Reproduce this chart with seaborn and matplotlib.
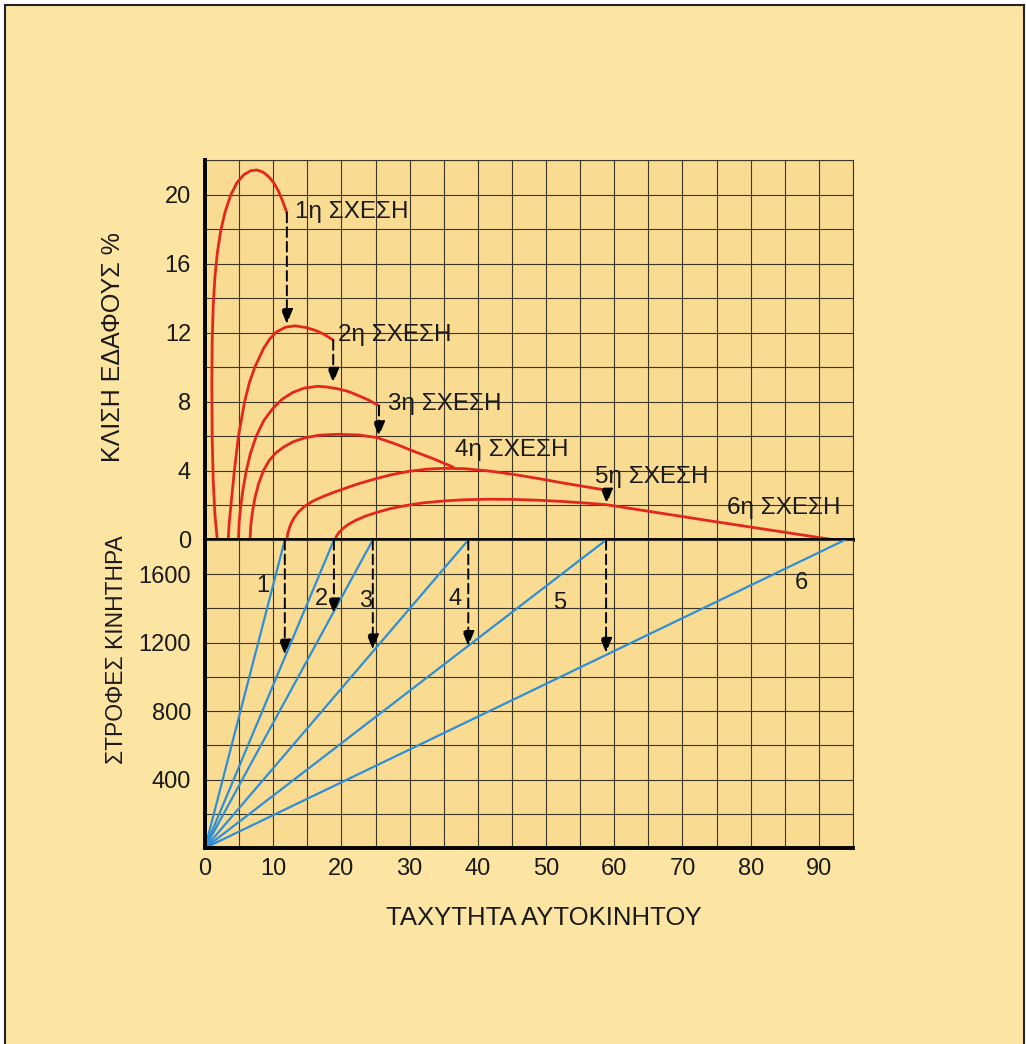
import matplotlib
matplotlib.use("Agg")
import matplotlib.pyplot as plt
import pandas as pd
import seaborn as sns
from matplotlib.patches import Rectangle

# slope curves (speed, % slope) for each gear
c1_speed = [1.8, 1.45, 1.2, 1.05, 1.0, 1.05, 1.2, 1.45, 1.8, 2.3, 2.95, 3.75, 4.7, 5.7, 6.7, 7.6, 8.5, 9.3, 10.05, 10.7, 11.3, 12.0]
c1_slope = [0, 1.5, 3.5, 6, 9, 11.5, 13.5, 15.2, 16.6, 17.9, 19.0, 19.95, 20.7, 21.15, 21.38, 21.42, 21.3, 21.05, 20.7, 20.25, 19.7, 18.95]
c2_speed = [3.4, 3.55, 3.8, 4.3, 4.9, 5.8, 6.5, 7.3, 8.6, 9.5, 10.5, 11.8, 13.2, 14.8, 16.1, 17.5, 18.8]
c2_slope = [0, 1, 2, 4, 6, 8, 9.1, 10, 11.1, 11.65, 12.05, 12.32, 12.4, 12.3, 12.15, 11.9, 11.57]
c3_speed = [4.9, 5.0, 5.25, 5.6, 6.05, 6.65, 7.5, 8.6, 9.9, 11.3, 12.9, 14.6, 16.6, 18.0, 19.5, 21.0, 22.5, 24.0, 25.5]
c3_slope = [0, 1, 2, 3, 4, 5, 6, 6.9, 7.6, 8.15, 8.55, 8.8, 8.9, 8.85, 8.75, 8.6, 8.36, 8.1, 7.77]
c4_speed = [6.6, 6.7, 6.95, 7.3, 7.85, 8.55, 9.4, 10.4, 11.6, 13.0, 14.7, 16.8, 19.5, 22.5, 25.2, 28.0, 30.5, 33.5, 36.4]
c4_slope = [0, 0.8, 1.6, 2.4, 3.25, 4.0, 4.6, 5.05, 5.4, 5.7, 5.92, 6.07, 6.12, 6.08, 5.93, 5.55, 5.15, 4.7, 4.22]
c5_speed = [12.0, 12.15, 12.5, 13.0, 13.7, 14.6, 15.8, 17.2, 18.8, 20.6, 22.6, 24.8, 27.2, 29.8, 32.5, 35.0, 38.0, 41.5, 45.2, 49.0, 52.5, 56.0, 58.9]
c5_slope = [0, 0.4, 0.85, 1.25, 1.62, 1.95, 2.25, 2.5, 2.75, 3.0, 3.27, 3.52, 3.77, 3.97, 4.1, 4.15, 4.13, 4.0, 3.8, 3.55, 3.3, 3.07, 2.88]
c6_speed = [19.1, 19.25, 19.6, 20.2, 21.0, 22.1, 23.5, 25.2, 27.2, 29.5, 32.0, 35.0, 38.0, 41.5, 45.2, 49.0, 52.5, 55.8, 58.9, 74.5, 92.4]
c6_slope = [0, 0.2, 0.42, 0.66, 0.9, 1.14, 1.38, 1.6, 1.82, 2.0, 2.15, 2.26, 2.33, 2.36, 2.35, 2.3, 2.23, 2.14, 2.04, 1.08, 0]

gear_names = ["1η ΣΧΕΣΗ", "2η ΣΧΕΣΗ", "3η ΣΧΕΣΗ", "4η ΣΧΕΣΗ", "5η ΣΧΕΣΗ", "6η ΣΧΕΣΗ"]
gear_numbers = ["1", "2", "3", "4", "5", "6"]

# engine rpm lines: speed reached at max rpm in each gear
rpm_max = 1800
speed_at_max_rpm = [11.7, 18.9, 24.6, 38.6, 58.8, 93.8]

# gear change arrows (top: slope drop, bottom: rpm drop)
shift_speed_top = [12.0, 18.8, 25.5, 58.9]
shift_slope_from = [18.95, 11.57, 7.77, 2.88]
shift_slope_to = [12.5, 9.1, 6.0, 2.1]
shift_speed_bot = [11.7, 18.9, 24.6, 38.6, 58.8]
shift_rpm_to = [1130, 1370, 1160, 1180, 1140]

RED = "#e5261d"
BLUE = "#2f8fd6"
GRID = "#3d3725"
BG_FIG = "#fce4a2"
BG_AX = "#f9dc92"
INK = "#1a1a1a"

sns.set_style("ticks")
plt.rcParams["font.family"] = ["Liberation Sans", "DejaVu Sans"]

curves = [(c1_speed, c1_slope), (c2_speed, c2_slope), (c3_speed, c3_slope),
          (c4_speed, c4_slope), (c5_speed, c5_slope), (c6_speed, c6_slope)]
slope_df = pd.concat([pd.DataFrame({"speed": s, "slope": k, "gear": i + 1})
                      for i, (s, k) in enumerate(curves)], ignore_index=True)
rpm_df = pd.concat([pd.DataFrame({"speed": [0, v], "rpm": [0, rpm_max], "gear": i + 1})
                    for i, v in enumerate(speed_at_max_rpm)], ignore_index=True)

fig = plt.figure(figsize=(10.26, 10.44), dpi=100, facecolor="white")
fig.patches.append(Rectangle((5 / 1026, -0.01), 1019 / 1026, 1.01 - 5 / 1044,
                             transform=fig.transFigure, facecolor=BG_FIG,
                             edgecolor="#222222", linewidth=1.5, zorder=-10))

ax_top = fig.add_axes([205 / 1026, 1 - 540 / 1044, 648 / 1026, 380 / 1044])
ax_bot = fig.add_axes([205 / 1026, 1 - 848 / 1044, 648 / 1026, 308 / 1044])

for ax in (ax_top, ax_bot):
    ax.set_facecolor(BG_AX)
    ax.set_axisbelow(True)
    ax.set_xlim(0, 95)
    ax.set_xticks(range(0, 91, 10))
    ax.set_xticks(range(0, 96, 5), minor=True)
    ax.grid(which="both", color=GRID, linewidth=0.8)
    ax.tick_params(which="both", length=0, labelsize=17, colors=INK)
    ax.tick_params(axis="y", pad=10)
    ax.tick_params(axis="x", pad=7)
    for side in ("left", "bottom"):
        ax.spines[side].set_linewidth(2.8)
        ax.spines[side].set_color("black")
        ax.spines[side].set_zorder(5)
    for side in ("top", "right"):
        ax.spines[side].set_linewidth(0.8)
        ax.spines[side].set_color(GRID)

ax_bot.spines["top"].set_visible(False)
ax_top.spines["bottom"].set_clip_on(False)

# top panel: slope curves
sns.lineplot(data=slope_df, x="speed", y="slope", units="gear", estimator=None,
             sort=False, color=RED, linewidth=2.0, ax=ax_top, legend=False)
ax_top.set_ylim(0, 22)
ax_top.set_yticks(range(0, 21, 4))
ax_top.set_yticks(range(0, 23, 2), minor=True)
ax_top.tick_params(labelbottom=False)
ax_top.set_xlabel("")
ax_top.set_ylabel("ΚΛΙΣΗ ΕΔΑΦΟΥΣ %", fontsize=18, va="center", color=INK)
ax_top.yaxis.set_label_coords(-0.142, 0.508)

arrow_kw = dict(arrowstyle="-|>,head_length=0.6,head_width=0.24", mutation_scale=15,
                color="black", lw=1.4, linestyle=(0, (5, 2.5)), shrinkA=0, shrinkB=0)
for x, y0, y1 in zip(shift_speed_top, shift_slope_from, shift_slope_to):
    ax_top.annotate("", xy=(x, y1), xytext=(x, y0), arrowprops=arrow_kw)

name_pos = [(13.2, 19.0), (19.5, 11.85), (26.8, 7.85), (36.7, 5.2), (57.2, 3.62), (76.5, 1.88)]
for name, (x, y) in zip(gear_names, name_pos):
    ax_top.text(x, y, name, fontsize=17.5, ha="left", va="center", color=INK)

# bottom panel: engine rpm lines
sns.lineplot(data=rpm_df, x="speed", y="rpm", units="gear", estimator=None,
             sort=False, color=BLUE, linewidth=1.6, ax=ax_bot, legend=False)
ax_bot.set_ylim(0, 1800)
ax_bot.set_yticks([400, 800, 1200, 1600])
ax_bot.set_yticks(range(0, 1801, 200), minor=True)
ax_bot.set_ylabel("ΣΤΡΟΦΕΣ ΚΙΝΗΤΗΡΑ", fontsize=16.5, va="center", color=INK)
ax_bot.yaxis.set_label_coords(-0.136, 0.643)
ax_bot.set_xlabel("ΤΑΧΥΤΗΤΑ ΑΥΤΟΚΙΝΗΤΟΥ", fontsize=18.5, va="center", color=INK)
ax_bot.xaxis.set_label_coords(0.523, -0.227)

for x, r in zip(shift_speed_bot, shift_rpm_to):
    ax_bot.annotate("", xy=(x, r), xytext=(x, rpm_max), arrowprops=arrow_kw)

num_pos = [(8.5, 1531), (17.1, 1455), (23.5, 1444), (36.7, 1455), (52.0, 1434), (87.5, 1550)]
for num, (x, y) in zip(gear_numbers, num_pos):
    ax_bot.text(x, y, num, fontsize=17, ha="center", va="center", color=INK)

fig.savefig("out.png", dpi=100, facecolor=fig.get_facecolor())
